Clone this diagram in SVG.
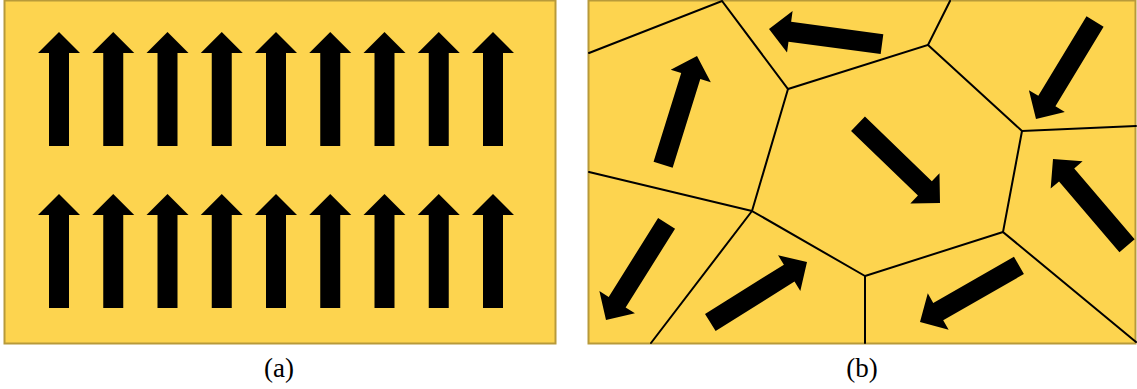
<svg xmlns="http://www.w3.org/2000/svg" width="1137" height="389" viewBox="0 0 1137 389">
<defs>
<style>
.panel{fill:#fdd44f;stroke:#b89a3a;stroke-width:2}
.edge{stroke:#000;stroke-width:2;fill:none;stroke-linecap:round}
.lbl{font-family:"Liberation Serif","DejaVu Serif",serif;font-size:27px;fill:#000;text-anchor:middle}
</style>
<path id="arr" d="M0,0 L21,21 L10,21 L10,114 L-10,114 L-10,21 L-21,21 Z" fill="#000"/>
</defs>
<g id="panel-a">
<rect class="panel" x="4.5" y="0.5" width="551" height="343"/>
<g id="arrows-a">
<use href="#arr" x="59" y="32"/>
<use href="#arr" x="113.25" y="32"/>
<use href="#arr" x="167.5" y="32"/>
<use href="#arr" x="221.75" y="32"/>
<use href="#arr" x="276" y="32"/>
<use href="#arr" x="330.25" y="32"/>
<use href="#arr" x="384.5" y="32"/>
<use href="#arr" x="438.75" y="32"/>
<use href="#arr" x="493" y="32"/>
<use href="#arr" x="59" y="194"/>
<use href="#arr" x="113.25" y="194"/>
<use href="#arr" x="167.5" y="194"/>
<use href="#arr" x="221.75" y="194"/>
<use href="#arr" x="276" y="194"/>
<use href="#arr" x="330.25" y="194"/>
<use href="#arr" x="384.5" y="194"/>
<use href="#arr" x="438.75" y="194"/>
<use href="#arr" x="493" y="194"/>
</g>
</g>
<g id="panel-b">
<rect class="panel" x="588.5" y="0.5" width="547" height="343"/>
<g id="edges">
<path class="edge" d="M589,53 L722,1 L788,89 L928,45 L950,1"/>
<path class="edge" d="M928,45 L1022,131 L1136,126"/>
<path class="edge" d="M1022,131 L1003,232 L1136,342"/>
<path class="edge" d="M1003,232 L865,276 L865,343"/>
<path class="edge" d="M865,276 L752,211 L788,89"/>
<path class="edge" d="M752,211 L589,172"/>
<path class="edge" d="M752,211 L651,343"/>
</g>
<g id="arrows-b">
<use href="#arr" transform="translate(697,56) rotate(17.3)"/>
<use href="#arr" transform="translate(769,29) rotate(-82.4)"/>
<use href="#arr" transform="translate(1036,119) rotate(-148.8)"/>
<use href="#arr" transform="translate(940,203) rotate(134)"/>
<use href="#arr" transform="translate(1053,159) rotate(-40.5)"/>
<use href="#arr" transform="translate(606,320) rotate(-147.9)"/>
<use href="#arr" transform="translate(807,262) rotate(58)"/>
<use href="#arr" transform="translate(920,322) rotate(-119.8)"/>
</g>
</g>
<text class="lbl" x="279" y="377">(a)</text>
<text class="lbl" x="862" y="377">(b)</text>
</svg>
